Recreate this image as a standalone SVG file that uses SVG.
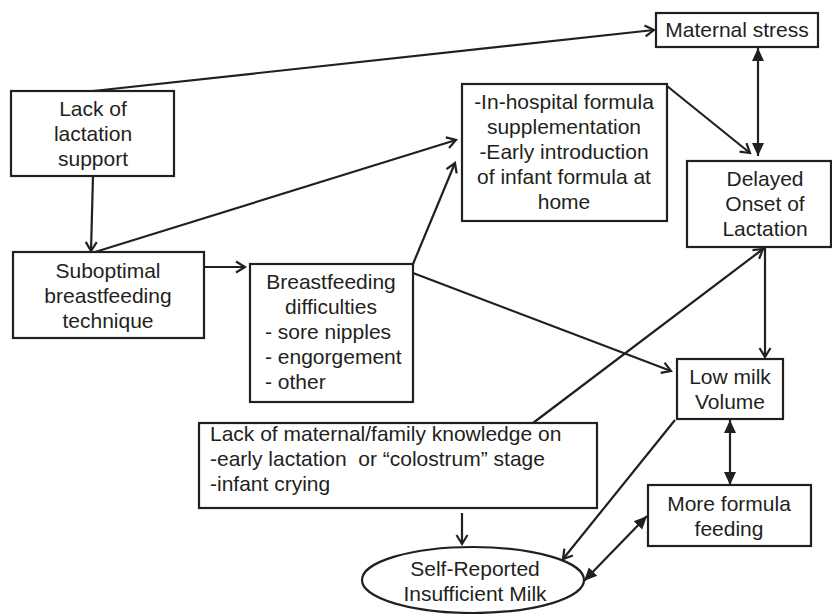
<svg xmlns="http://www.w3.org/2000/svg" width="832" height="614" viewBox="0 0 832 614">
<style>
  .box { fill: #fff; stroke: #231f20; stroke-width: 2.2; }
  .t { font-family: "Liberation Sans", Arial, sans-serif; font-size: 21px; fill: #231f20; }
  .c { text-anchor: middle; }
  .ln { stroke: #231f20; stroke-width: 2.2; fill: none; }
  .open { marker-end: url(#open); }
  .dbl { marker-start: url(#fill); marker-end: url(#fill); }
</style>
<defs>
  <marker id="open" markerUnits="userSpaceOnUse" markerWidth="14" markerHeight="16" refX="10" refY="7" orient="auto">
    <path d="M1,1.5 L10,7 L1,12.5" fill="none" stroke="#231f20" stroke-width="2.2"/>
  </marker>
  <marker id="fill" markerUnits="userSpaceOnUse" markerWidth="16" markerHeight="14" refX="13" refY="7" orient="auto-start-reverse">
    <path d="M0,1 L13,7 L0,13 Z" fill="#231f20"/>
  </marker>
</defs>
<rect width="832" height="614" fill="#fff"/>

<g id="connectors">
  <line class="ln open" x1="93" y1="91" x2="654" y2="30"/>
  <line class="ln open" x1="93" y1="176" x2="91" y2="251"/>
  <line class="ln open" x1="95" y1="252" x2="456" y2="140"/>
  <line class="ln open" x1="204" y1="267" x2="245" y2="267"/>
  <line class="ln open" x1="413" y1="264" x2="455" y2="163"/>
  <line class="ln open" x1="413" y1="273" x2="671" y2="371"/>
  <line class="ln open" x1="667" y1="86" x2="750" y2="153"/>
  <line class="ln dbl" x1="758" y1="48" x2="758" y2="156"/>
  <line class="ln open" x1="765" y1="247" x2="765" y2="357"/>
  <line class="ln open" x1="533" y1="423" x2="763" y2="249"/>
  <line class="ln open" x1="675" y1="420" x2="563" y2="559"/>
  <line class="ln dbl" x1="730" y1="420" x2="730" y2="485"/>
  <line class="ln dbl" x1="647" y1="516" x2="584" y2="581"/>
  <line class="ln open" x1="462" y1="513" x2="462" y2="544"/>
</g>

<g id="maternal-stress">
  <rect class="box" x="656" y="13" width="162" height="34"/>
  <text class="t c" x="737" y="37">Maternal stress</text>
</g>

<g id="lack-lactation-support">
  <rect class="box" x="11" y="91" width="163" height="85"/>
  <text class="t c" x="93" y="116">Lack of</text>
  <text class="t c" x="93" y="141">lactation</text>
  <text class="t c" x="93" y="166">support</text>
</g>

<g id="formula-supplementation">
  <rect class="box" x="462" y="84" width="205" height="137"/>
  <text class="t c" x="564" y="109">-In-hospital formula</text>
  <text class="t c" x="564" y="134">supplementation</text>
  <text class="t c" x="564" y="159">-Early introduction</text>
  <text class="t c" x="564" y="184">of infant formula at</text>
  <text class="t c" x="564" y="209">home</text>
</g>

<g id="delayed-onset">
  <rect class="box" x="687" y="161" width="144" height="86"/>
  <text class="t c" x="765" y="186">Delayed</text>
  <text class="t c" x="765" y="211">Onset of</text>
  <text class="t c" x="765" y="236">Lactation</text>
</g>

<g id="suboptimal-technique">
  <rect class="box" x="13" y="252" width="191" height="86"/>
  <text class="t c" x="108" y="278">Suboptimal</text>
  <text class="t c" x="108" y="303">breastfeeding</text>
  <text class="t c" x="108" y="328">technique</text>
</g>

<g id="breastfeeding-difficulties">
  <rect class="box" x="250" y="264" width="163" height="138"/>
  <text class="t c" x="331" y="289">Breastfeeding</text>
  <text class="t c" x="331" y="314">difficulties</text>
  <text class="t" x="265" y="339">- sore nipples</text>
  <text class="t" x="265" y="364">- engorgement</text>
  <text class="t" x="265" y="389">- other</text>
</g>

<g id="low-milk-volume">
  <rect class="box" x="677" y="359" width="106" height="60"/>
  <text class="t c" x="730" y="384">Low milk</text>
  <text class="t c" x="730" y="409">Volume</text>
</g>

<g id="lack-knowledge">
  <rect class="box" x="199" y="423" width="398" height="85"/>
  <text class="t" x="210" y="441">Lack of maternal/family knowledge on</text>
  <text class="t" x="210" y="466" xml:space="preserve" style="white-space:pre">-early lactation  or “colostrum” stage</text>
  <text class="t" x="210" y="491">-infant crying</text>
</g>

<g id="more-formula-feeding">
  <rect class="box" x="648" y="485" width="163" height="61"/>
  <text class="t c" x="729" y="511">More formula</text>
  <text class="t c" x="729" y="536">feeding</text>
</g>

<g id="self-reported-insufficient-milk">
  <ellipse class="box" cx="473" cy="580" rx="111" ry="33"/>
  <text class="t c" x="475" y="576">Self-Reported</text>
  <text class="t c" x="475" y="601">Insufficient Milk</text>
</g>
</svg>
